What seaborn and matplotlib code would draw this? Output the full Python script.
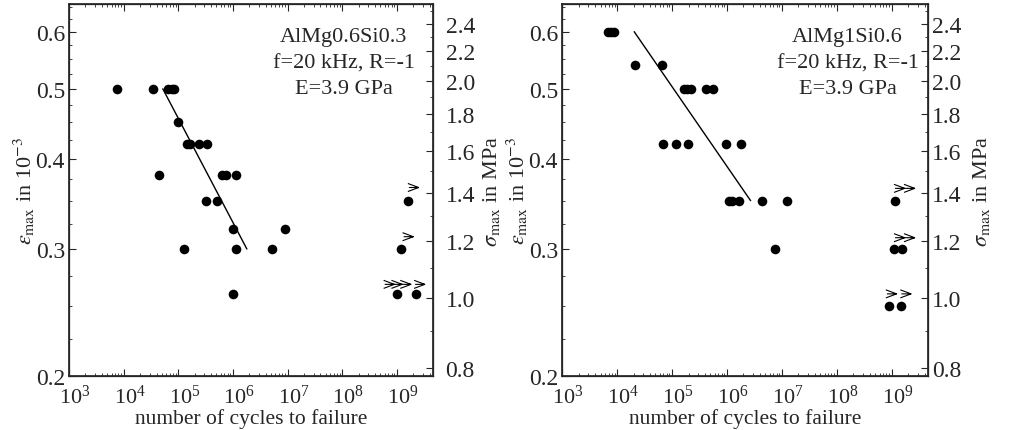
import numpy as np
import pandas as pd
import matplotlib
matplotlib.use("Agg")
import matplotlib.pyplot as plt
import matplotlib.ticker as mticker
import matplotlib.transforms as mtransforms
from matplotlib.path import Path
import seaborn as sns

# AlMg0.6Si0.3 (left panel): cycles to failure and strain amplitude (10^-3)
left_N = [7.5e3, 3.5e4, 6.6e4, 7.6e4, 8.5e4, 9.8e4,
          1.45e5, 1.66e5, 2.37e5, 3.4e5, 4.5e4,
          6.3e5, 7.6e5, 1.12e6, 3.2e5, 5.1e5,
          1.0e6, 9.1e6, 1.26e5, 1.15e6, 5.2e6, 1.0e6,
          1.17e9, 1.6e9, 1.0e9, 2.2e9]
left_eps = [0.50, 0.50, 0.50, 0.50, 0.50, 0.45,
            0.42, 0.42, 0.42, 0.42, 0.38,
            0.38, 0.38, 0.38, 0.35, 0.35,
            0.32, 0.32, 0.30, 0.30, 0.30, 0.26,
            0.30, 0.35, 0.26, 0.26]
left_runout_N = [1.6e9, 2.0e9, 7.2e8, 1.0e9, 1.45e9, 2.6e9]
left_runout_eps = [0.312, 0.365, 0.268, 0.268, 0.268, 0.268]
left_fit_N = [5.2e4, 1.8e6]
left_fit_eps = [0.50, 0.30]

# AlMg1Si0.6 (right panel)
right_N = [6.9e3, 7.9e3, 8.9e3, 2.1e4, 6.6e4,
           1.66e5, 1.9e5, 2.2e5, 4.2e5, 5.6e5,
           6.9e4, 1.18e5, 1.95e5, 9.5e5, 1.8e6,
           1.1e6, 1.26e6, 1.66e6, 4.4e6, 1.26e7, 7.6e6,
           1.15e9, 1.12e9, 1.55e9, 9.1e8, 1.5e9]
right_eps = [0.60, 0.60, 0.60, 0.54, 0.54,
             0.50, 0.50, 0.50, 0.50, 0.50,
             0.42, 0.42, 0.42, 0.42, 0.42,
             0.35, 0.35, 0.35, 0.35, 0.35, 0.30,
             0.35, 0.30, 0.30, 0.25, 0.25]
right_runout_N = [1.38e9, 2.1e9, 1.38e9, 2.1e9, 9.8e8, 1.8e9]
right_runout_eps = [0.364, 0.364, 0.311, 0.311, 0.26, 0.26]
right_fit_N = [2.05e4, 2.7e6]
right_fit_eps = [0.60, 0.35]

E_GPa = 3.9
x_ticks = [1e3, 1e4, 1e5, 1e6, 1e7, 1e8, 1e9]
eps_ticks = [0.2, 0.3, 0.4, 0.5, 0.6]
sigma_ticks = [0.8, 1.0, 1.2, 1.4, 1.6, 1.8, 2.0, 2.2, 2.4]

sns.set_theme(style="ticks")
plt.rcParams['font.family'] = ['Liberation Serif', 'DejaVu Serif']
plt.rcParams['mathtext.fontset'] = 'stix'

# small open arrow head with a short tail, used for run-outs
arrow = Path([(-0.8, 0), (1, 0), (-1, 0.75), (1, 0), (-1, -0.75)],
             [Path.MOVETO, Path.LINETO, Path.MOVETO, Path.LINETO, Path.LINETO])


def panel(fig, ax, N, eps, rN, reps, fN, feps, lines, text_x, rpad, rlabelpad):
    df = pd.DataFrame({"N": N, "eps": eps})
    sns.scatterplot(data=df, x="N", y="eps", ax=ax, color="black", s=48,
                    edgecolor="black", linewidth=0)
    sns.scatterplot(x=rN, y=reps, ax=ax, marker=arrow, s=60,
                    facecolor="none", edgecolor="black", linewidth=0.8)
    sns.lineplot(x=fN, y=feps, ax=ax, color="black", lw=1.0)
    ax.set_xscale("log")
    ax.set_yscale("log")
    ax.set_xlim(1e3, 4.6e9)
    ax.set_ylim(0.2, 0.655)
    ax.xaxis.set_major_locator(mticker.FixedLocator(x_ticks))
    ax.xaxis.set_major_formatter(mticker.LogFormatterMathtext())
    ax.xaxis.set_minor_locator(mticker.LogLocator(subs=np.arange(2, 10), numticks=20))
    ax.yaxis.set_major_locator(mticker.FixedLocator(eps_ticks))
    ax.yaxis.set_major_formatter(mticker.FormatStrFormatter("%.1f"))
    ax.yaxis.set_minor_locator(mticker.FixedLocator(np.arange(0.2, 0.66, 0.025)))
    ax.yaxis.set_minor_formatter(mticker.NullFormatter())
    ax.tick_params(which="both", top=True, direction="in", labelsize=17)
    ax.tick_params(which="major", length=5, width=0.8)
    ax.tick_params(which="minor", length=2.5, width=0.6)
    ax.tick_params(axis="x", pad=6, labelsize=16)
    ax.tick_params(axis="y", pad=3)
    # decade labels sit a little to the right of their ticks, as in the original
    shift = mtransforms.ScaledTranslation(6 / 100, 0, fig.dpi_scale_trans)
    for lab in ax.get_xticklabels():
        lab.set_transform(lab.get_transform() + shift)
    ax.set_xlabel("number of cycles to failure", fontsize=15.5, labelpad=0)
    ax.set_ylabel(r"$\varepsilon_{\rm max}$ in 10$^{-3}$", fontsize=16, labelpad=-1)
    for sp in ax.spines.values():
        sp.set_linewidth(0.9)

    ax2 = ax.twinx()
    ax2.set_yscale("log")
    lo, hi = ax.get_ylim()
    ax2.set_ylim(lo * E_GPa, hi * E_GPa)
    ax2.yaxis.set_major_locator(mticker.FixedLocator(sigma_ticks))
    ax2.yaxis.set_major_formatter(mticker.FormatStrFormatter("%.1f"))
    ax2.yaxis.set_minor_locator(mticker.FixedLocator(np.arange(0.8, 2.55, 0.1)))
    ax2.yaxis.set_minor_formatter(mticker.NullFormatter())
    ax2.tick_params(which="both", direction="in", labelsize=17, pad=rpad)
    ax2.tick_params(which="major", length=5, width=0.8)
    ax2.tick_params(which="minor", length=2.5, width=0.6)
    ax2.set_ylabel(r"$\sigma_{\rm max}$ in MPa", fontsize=16, labelpad=rlabelpad)

    for i, t in enumerate(lines):
        ax.text(text_x, 0.912 - i * 0.07, t, transform=ax.transAxes,
                ha="center", va="center", fontsize=16)


fig = plt.figure(figsize=(10.11, 4.31), dpi=100)
ax_l = fig.add_axes([0.0683, 0.125, 0.360, 0.863])
ax_r = fig.add_axes([0.556, 0.125, 0.362, 0.863])

panel(fig, ax_l, left_N, left_eps, left_runout_N, left_runout_eps,
      left_fit_N, left_fit_eps,
      ["AlMg0.6Si0.3", "f=20 kHz, R=-1", "E=3.9 GPa"], 0.755, 9, 4)
panel(fig, ax_r, right_N, right_eps, right_runout_N, right_runout_eps,
      right_fit_N, right_fit_eps,
      ["AlMg1Si0.6", "f=20 kHz, R=-1", "E=3.9 GPa"], 0.78, 3, 7)

fig.savefig("out.png", dpi=100)
